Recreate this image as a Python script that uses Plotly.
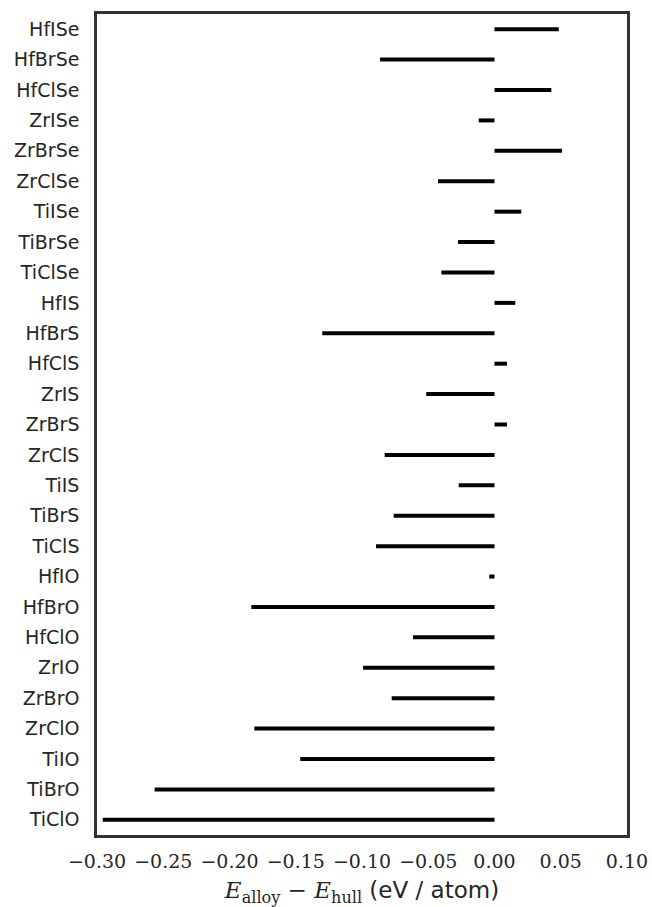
import plotly.graph_objects as go

compounds = ["HfISe", "HfBrSe", "HfClSe", "ZrISe", "ZrBrSe", "ZrClSe", "TiISe", "TiBrSe", "TiClSe",
             "HfIS", "HfBrS", "HfClS", "ZrIS", "ZrBrS", "ZrClS", "TiIS", "TiBrS", "TiClS",
             "HfIO", "HfBrO", "HfClO", "ZrIO", "ZrBrO", "ZrClO", "TiIO", "TiBrO", "TiClO"]
energies = [0.0485, -0.0864, 0.0429, -0.0119, 0.0510, -0.0426, 0.0202, -0.0275, -0.0401,
            0.0157, -0.1300, 0.0094, -0.0515, 0.0094, -0.0829, -0.0270, -0.0761, -0.0894,
            -0.0040, -0.1835, -0.0615, -0.0992, -0.0776, -0.1813, -0.1466, -0.2565, -0.2957]
x_ticks = [-0.30, -0.25, -0.20, -0.15, -0.10, -0.05, 0.00, 0.05, 0.10]

xs, ys = [], []
for c, v in zip(compounds, energies):
    xs += [0, v, None]
    ys += [c, c, None]

fig = go.Figure(go.Scatter(x=xs, y=ys, mode="lines",
                           line=dict(color="black", width=4), showlegend=False,
                           hoverinfo="skip"))

fig.update_layout(
    width=652, height=907,
    margin=dict(l=97, r=25, t=14, b=72),
    plot_bgcolor="white", paper_bgcolor="white",
    xaxis=dict(range=[-0.30, 0.10], tickvals=x_ticks, automargin=False,
               ticktext=[("\u2212" if t < 0 else "") + f"{abs(t):.2f}" for t in x_ticks],
               showgrid=False, zeroline=False, ticks="", ticklabelstandoff=7,
               showline=True, mirror=True, linecolor="#333333", linewidth=2.5,
               tickfont=dict(family="DejaVu Serif", size=19, color="#262626"),
               title=dict(text="<i>E</i><sub>alloy</sub> \u2212 <i>E</i><sub>hull</sub> "
                               "<span style='font-family:DejaVu Sans'>(eV / atom)</span>",
                          font=dict(family="DejaVu Serif", size=23, color="#262626"),
                          standoff=18)),
    yaxis=dict(type="category", categoryorder="array", categoryarray=compounds,
               range=[26.5, -0.5], showgrid=False, zeroline=False, ticks="",
               ticklabelstandoff=11, automargin=False,
               showline=True, mirror=True, linecolor="#333333", linewidth=2.5,
               tickfont=dict(family="DejaVu Sans", size=19, color="#262626")),
)

fig.write_html("out.html")
